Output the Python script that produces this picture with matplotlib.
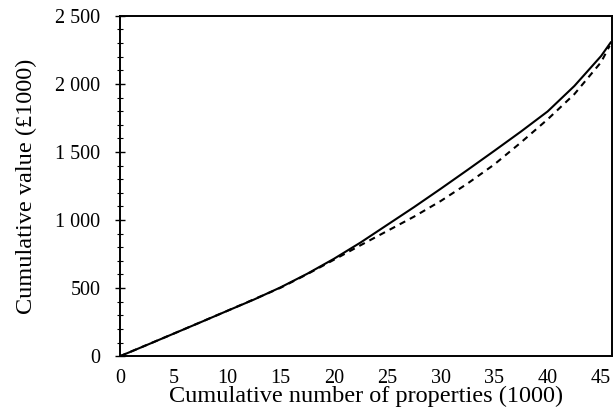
import matplotlib
matplotlib.use("Agg")
from matplotlib import pyplot as plt
from matplotlib.ticker import MultipleLocator, FuncFormatter

# cumulative number of properties (1000)
props_solid = [0, 2.5, 5, 7.5, 10, 12.5, 15, 17.5, 20, 22.5, 25, 27.5, 30,
               32.5, 35, 37.5, 40, 42.5, 45, 45.9]
# cumulative value (£1000)
value_solid = [0, 82, 165, 248, 332, 415, 505, 605, 715, 835, 965, 1095, 1230,
               1368, 1508, 1650, 1798, 1985, 2205, 2305]

props_dash = [0, 5, 10, 15, 17.5, 20, 22.5, 25, 27.5, 30, 32.5, 35, 37.5,
              40, 42.5, 45, 45.8]
value_dash = [0, 165, 332, 502, 602, 708, 815, 920, 1025, 1140, 1268, 1408,
              1570, 1740, 1925, 2160, 2280]

plt.rcParams['font.family'] = ['Liberation Serif', 'DejaVu Serif']

fig = plt.figure(figsize=(6.13, 4.18), dpi=100)
ax = fig.add_axes([0.196, 0.148, 0.802, 0.814])

ax.plot(props_solid, value_solid, color='black', lw=1.5)
ax.plot(props_dash, value_dash, color='black', lw=1.5, linestyle=(0, (3, 2.5)))

ax.set_xlim(0, 46)
ax.set_ylim(0, 2500)

ax.xaxis.set_major_locator(MultipleLocator(5))
ax.yaxis.set_major_locator(MultipleLocator(500))
ax.yaxis.set_minor_locator(MultipleLocator(100))
ax.yaxis.set_major_formatter(FuncFormatter(lambda v, p: f"{int(v):,}".replace(",", " ")))

ax.tick_params(axis='x', length=0, pad=9, labelsize=14.5)
ax.tick_params(axis='y', which='major', direction='inout', length=6.5, width=1, labelsize=14.5, pad=11)
ax.tick_params(axis='y', which='minor', direction='inout', length=4, width=0.8)

for s in ax.spines.values():
    s.set_linewidth(1.4)

ax.set_xlabel("Cumulative number of properties (1000)", fontsize=17.5, labelpad=-1)
ax.set_ylabel("Cumulative value (£1000)", fontsize=17.5, labelpad=13)

fig.savefig("out.png", dpi=100)
